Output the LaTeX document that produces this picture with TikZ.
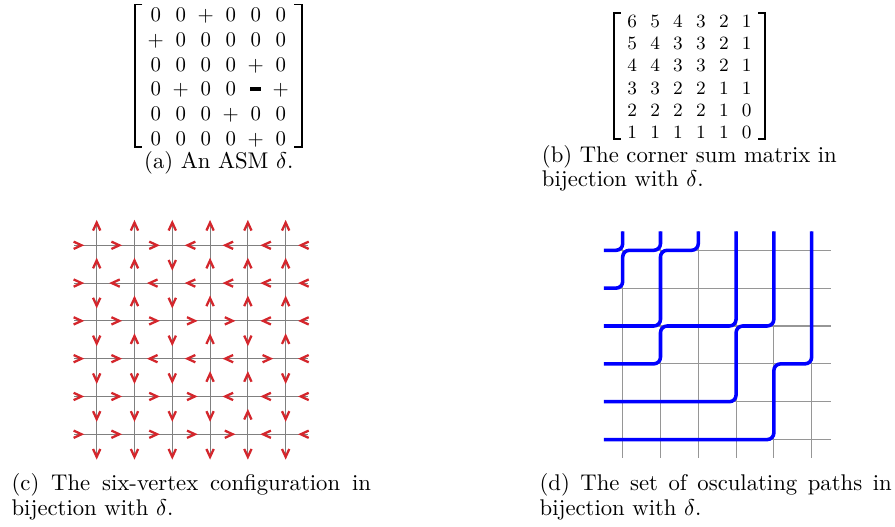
\documentclass[tikz,border=0pt]{standalone}
\usepackage{amsmath,amssymb}
\usepackage{tikz}
\usetikzlibrary{matrix,positioning,calc}
\definecolor{sixred}{RGB}{212,38,44}
\definecolor{pathblue}{RGB}{0,0,255}
\definecolor{sixgray}{RGB}{128,128,128}
\definecolor{latticegray}{RGB}{150,150,150}
\tikzset{
  entries/.style={matrix of math nodes, inner sep=0pt, anchor=center,
    nodes={inner sep=0pt, anchor=base, text height=6.44pt, text depth=0pt}},
  brak/.style={line width=0.8pt, line join=miter},
  subcap/.style={inner sep=0pt, font=\fontsize{10.9pt}{11.8pt}\selectfont},
  sixline/.style={draw=sixgray, line width=0.5pt},
  latticeline/.style={draw=latticegray, line width=0.5pt},
  chevron/.pic={\draw[sixred, line width=1.1pt, line join=miter]
    (-2pt,1.75pt) -- (1.8pt,0pt) -- (-2pt,-1.75pt);},
  osc/.style={draw=pathblue, line width=1.7pt, rounded corners=3.2pt}
}

\begin{document}
\begin{tikzpicture}[x=0.48pt, y=-0.48pt]
  \useasboundingbox (0,0) rectangle (895,527);

  \matrix (asm) [entries, column sep={12pt,between origins},
    row sep={11.85pt,between origins}] at (218.3,76.7) {
    0 & 0 & + & 0 & 0 & 0 \\
    + & 0 & 0 & 0 & 0 & 0 \\
    0 & 0 & 0 & 0 & + & 0 \\
    0 & + & 0 & 0 & \rule[2.4pt]{5.3pt}{1.6pt} & + \\
    0 & 0 & 0 & + & 0 & 0 \\
    0 & 0 & 0 & 0 & + & 0 \\
  };
  \draw[brak] ([shift={(-2.3pt,1.6pt)}]asm.north west) -- ([shift={(-6pt,1.6pt)}]asm.north west)
    -- ([shift={(-6pt,-0.8pt)}]asm.south west) -- ([shift={(-2.3pt,-0.8pt)}]asm.south west);
  \draw[brak] ([shift={(2.3pt,1.6pt)}]asm.north east) -- ([shift={(6pt,1.6pt)}]asm.north east)
    -- ([shift={(6pt,-0.8pt)}]asm.south east) -- ([shift={(2.3pt,-0.8pt)}]asm.south east);
  \node[subcap, anchor=base] (capasm) at (218.8,168.3) {(a) An ASM $\delta$.};

  \matrix (csm) [entries, nodes={font=\small, text height=5.8pt},
    column sep={11pt,between origins}, row sep={10.6pt,between origins}] at (689.5,77) {
    6 & 5 & 4 & 3 & 2 & 1 \\
    5 & 4 & 3 & 3 & 2 & 1 \\
    4 & 4 & 3 & 3 & 2 & 1 \\
    3 & 3 & 2 & 2 & 1 & 1 \\
    2 & 2 & 2 & 2 & 1 & 0 \\
    1 & 1 & 1 & 1 & 1 & 0 \\
  };
  \draw[brak] ([shift={(-2.9pt,1.2pt)}]csm.north west) -- ([shift={(-6.1pt,1.2pt)}]csm.north west)
    -- ([shift={(-6.1pt,-0.3pt)}]csm.south west) -- ([shift={(-2.9pt,-0.3pt)}]csm.south west);
  \draw[brak] ([shift={(2.9pt,1.2pt)}]csm.north east) -- ([shift={(6.1pt,1.2pt)}]csm.north east)
    -- ([shift={(6.1pt,-0.3pt)}]csm.south east) -- ([shift={(2.9pt,-0.3pt)}]csm.south east);
  \node[subcap, align=left, anchor=north west] (capcsm) at (541.5,144.7)
    {(b) The corner sum matrix in\\bijection with $\delta$.};

  \begin{scope}[shift={(58.9,207.5)}, x=18.14pt, y=-18.14pt]
    \foreach \k in {1,...,6} {
      \draw[sixline] (0.4,\k) -- (6.6,\k);
      \draw[sixline] (\k,0.4) -- (\k,6.6);
    }
    \foreach \row [count=\i] in {{0,0,0,180,180,180,180},{0,180,180,180,180,180,180},
        {0,0,0,0,0,180,180},{0,0,180,180,180,0,180},{0,0,0,0,180,180,180},{0,0,0,0,0,180,180}}
      \foreach \a [count=\k] in \row
        \pic[rotate=\a] at (\k-0.5,\i) {chevron};
    \foreach \col [count=\j] in {{90,90,270,270,270,270,270},{90,90,90,90,270,270,270},
        {90,270,270,270,270,270,270},{90,90,90,90,90,270,270},{90,90,90,270,90,90,270},
        {90,90,90,90,270,270,270}}
      \foreach \a [count=\k] in \col
        \pic[rotate=\a] at (\j,\k-0.5) {chevron};
  \end{scope}
  \node[subcap, text width=172.5pt, align=justify, anchor=north west] (capsix) at (11.2,473)
    {(c) The six-vertex configuration in\linebreak bijection with $\delta$.};

  \begin{scope}[shift={(584.9,212.44)}, x=18.14pt, y=-18.17pt]
    \foreach \k in {1,...,6} {
      \draw[latticeline] (0.5,\k) -- (6.5,\k);
      \draw[latticeline] (\k,0.5) -- (\k,6.5);
    }
    \draw[osc] (0.5,1) -- (1,1) -- (1,0.5);
    \draw[osc] (0.5,2) -- (1,2) -- (1,1) -- (2,1) -- (2,0.5);
    \draw[osc] (0.5,3) -- (2,3) -- (2,1) -- (3,1) -- (3,0.5);
    \draw[osc] (0.5,4) -- (2,4) -- (2,3) -- (4,3) -- (4,0.5);
    \draw[osc] (0.5,5) -- (4,5) -- (4,3) -- (5,3) -- (5,0.5);
    \draw[osc] (0.5,6) -- (5,6) -- (5,4) -- (6,4) -- (6,0.5);
  \end{scope}
  \node[subcap, text width=169pt, align=justify, anchor=north west] (capocs) at (539.2,473)
    {(d) The set of osculating paths in\linebreak bijection with $\delta$.};
\end{tikzpicture}
\end{document}
